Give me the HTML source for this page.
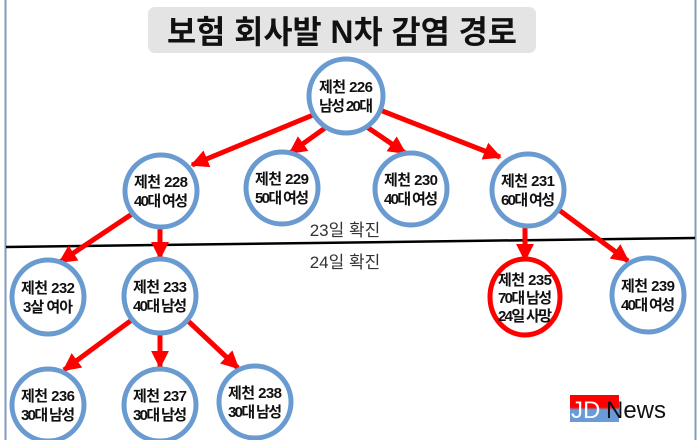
<!DOCTYPE html>
<html><head><meta charset="utf-8"><style>
html,body{margin:0;padding:0;background:#fff;}
svg{display:block;}
text{font-family:"Liberation Sans","Noto Sans CJK KR",sans-serif;}
.n{font-size:15px;font-weight:bold;fill:#111;text-anchor:middle;}
</style></head><body>
<svg width="700" height="440" viewBox="0 0 700 440" xmlns="http://www.w3.org/2000/svg">
<defs>
<marker id="a" viewBox="0 0 10 10" refX="9" refY="5" markerWidth="3.6" markerHeight="3.6" orient="auto" markerUnits="strokeWidth">
<path d="M0,0 L10,5 L0,10 z" fill="#f00"/></marker>
<linearGradient id="jd" x1="0" y1="0" x2="0" y2="1">
<stop offset="0" stop-color="#f00"/><stop offset="0.45" stop-color="#f00"/><stop offset="0.55" stop-color="#6a9bd8"/><stop offset="1" stop-color="#6a9bd8"/></linearGradient>
</defs>
<line x1="5.5" y1="0" x2="5.5" y2="440" stroke="#7f9bbf" stroke-width="2"/>
<line x1="695.5" y1="0" x2="695.5" y2="440" stroke="#7f9bbf" stroke-width="2"/>
<rect x="148" y="7" width="388" height="46" rx="7" fill="#e4e4e4"/>
<text x="342" y="43" font-size="32" font-weight="bold" text-anchor="middle" fill="#111" textLength="350" lengthAdjust="spacingAndGlyphs">보험 회사발 N차 감염 경로</text>
<line x1="6" y1="247" x2="695" y2="238" stroke="#000" stroke-width="2.5"/>
<text x="345" y="236" font-size="17" text-anchor="middle" fill="#333">23일 확진</text>
<text x="345" y="268" font-size="17" text-anchor="middle" fill="#333">24일 확진</text>
<g stroke="#f00" stroke-width="5" marker-end="url(#a)" fill="none">
<line x1="313" y1="115" x2="192" y2="165"/>
<line x1="325" y1="128" x2="290" y2="153"/>
<line x1="367" y1="127" x2="405" y2="153"/>
<line x1="380" y1="110" x2="500" y2="157"/>
<line x1="132" y1="214" x2="60" y2="262"/>
<line x1="160" y1="228" x2="160" y2="258"/>
<line x1="555" y1="207" x2="628" y2="261"/>
<line x1="525" y1="226" x2="525" y2="260"/>
<line x1="133" y1="319" x2="64" y2="370"/>
<line x1="160" y1="334" x2="160" y2="367"/>
<line x1="186" y1="319" x2="238" y2="368"/>
</g>
<g fill="#fff" stroke="#6a9bd0" stroke-width="5">
<ellipse cx="346" cy="96" rx="37" ry="37"/>
<ellipse cx="161" cy="191" rx="36" ry="36"/>
<ellipse cx="282" cy="188" rx="36" ry="36"/>
<ellipse cx="411" cy="189" rx="36" ry="36"/>
<ellipse cx="528" cy="190" rx="36" ry="36"/>
<ellipse cx="48" cy="297" rx="36" ry="37"/>
<ellipse cx="160" cy="296" rx="36" ry="37"/>
<ellipse cx="648" cy="295" rx="36" ry="37"/>
<ellipse cx="48" cy="405" rx="36" ry="36"/>
<ellipse cx="160" cy="405" rx="36" ry="36"/>
<ellipse cx="255" cy="402" rx="36" ry="36"/>
</g>
<ellipse cx="525" cy="297" rx="35" ry="38" fill="#fff" stroke="#f00" stroke-width="5"/>
<g lengthAdjust="spacingAndGlyphs">
<text class="n" x="346" y="92" textLength="54">제천 226</text><text class="n" x="346" y="111" textLength="54">남성 20대</text>
<text class="n" x="161" y="187" textLength="54">제천 228</text><text class="n" x="161" y="206" textLength="54">40대 여성</text>
<text class="n" x="282" y="184" textLength="54">제천 229</text><text class="n" x="282" y="203" textLength="54">50대 여성</text>
<text class="n" x="411" y="185" textLength="54">제천 230</text><text class="n" x="411" y="204" textLength="54">40대 여성</text>
<text class="n" x="528" y="186" textLength="54">제천 231</text><text class="n" x="528" y="205" textLength="54">60대 여성</text>
<text class="n" x="48" y="293" textLength="54">제천 232</text><text class="n" x="48" y="312" textLength="50">3살 여아</text>
<text class="n" x="160" y="292" textLength="54">제천 233</text><text class="n" x="160" y="311" textLength="54">40대 남성</text>
<text class="n" x="525" y="285" textLength="54">제천 235</text><text class="n" x="525" y="303" textLength="54">70대 남성</text><text class="n" x="525" y="321" textLength="54">24일 사망</text>
<text class="n" x="648" y="291" textLength="54">제천 239</text><text class="n" x="648" y="310" textLength="54">40대 여성</text>
<text class="n" x="48" y="401" textLength="54">제천 236</text><text class="n" x="48" y="420" textLength="54">30대 남성</text>
<text class="n" x="160" y="401" textLength="54">제천 237</text><text class="n" x="160" y="420" textLength="54">30대 남성</text>
<text class="n" x="255" y="398" textLength="54">제천 238</text><text class="n" x="255" y="417" textLength="54">30대 남성</text>
</g>
<rect x="570" y="395" width="49" height="27" fill="url(#jd)"/>
<text x="571" y="418" font-size="24" fill="#fff">JD</text>
<text x="606" y="418" font-size="24" fill="#111">News</text>
</svg>
</body></html>
